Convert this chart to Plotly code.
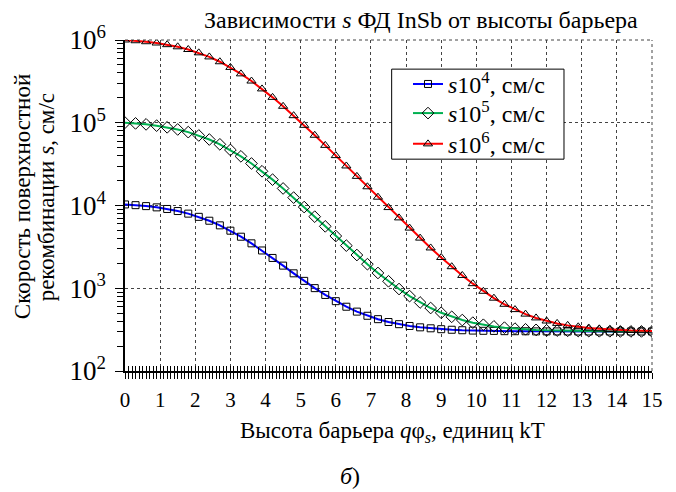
import plotly.graph_objects as go

# Barrier height q*phi_s, kT units (markers every 0.3)
x_vals = [0.0, 0.3, 0.6, 0.9, 1.2, 1.5, 1.8, 2.1, 2.4, 2.7, 3.0, 3.3, 3.6, 3.9, 4.2, 4.5, 4.8,
          5.1, 5.4, 5.7, 6.0, 6.3, 6.6, 6.9, 7.2, 7.5, 7.8, 8.1, 8.4, 8.7, 9.0, 9.3, 9.6, 9.9,
          10.2, 10.5, 10.8, 11.1, 11.4, 11.7, 12.0, 12.3, 12.6, 12.9, 13.2, 13.5, 13.8, 14.1,
          14.4, 14.7, 15.0]

s_1e4 = [10300, 10094, 9830, 9495, 9078, 8572, 7975, 7293, 6545, 5756, 4962, 4196, 3489, 2861,
         2324, 1877, 1515, 1228, 1003, 830, 698, 598, 522, 465, 423, 391, 368, 350, 337, 328,
         320, 315, 311, 308, 306, 305, 303, 302.5, 302, 301, 301, 300.8, 300.6, 300.4, 300.3,
         300.2, 300.2, 300.1, 300.1, 300.1, 300.1]

s_1e5 = [100300, 98243, 95602, 92246, 88081, 83020, 77046, 70230, 62745, 54861, 46916, 39259,
         32189, 25914, 20538, 16070, 12450, 9576, 7330, 5599, 4277, 3275, 2520, 1954, 1530,
         1214, 978.5, 803.5, 673.5, 577, 505, 452, 413, 384, 362, 346, 334, 325, 319, 314,
         310, 308, 306, 304, 303, 302, 302, 301, 301, 301, 300.5]

s_1e6 = [1000300, 979732, 953316, 919756, 878109, 827498, 767760, 699601, 624754, 545913,
         466457, 389890, 319188, 256441, 202680, 158004, 121798, 93056, 70599, 53289, 40067,
         30049, 22500, 16835, 12600, 9439, 7085, 5335, 4035, 3069, 2353, 1822, 1428, 1136,
         919, 759, 640, 552, 487, 438, 402, 376, 356, 342, 331, 323, 317, 312.5, 309, 307, 305]

series_names = ["<i>s</i>10<sup>4</sup>, см/с", "<i>s</i>10<sup>5</sup>, см/с",
                "<i>s</i>10<sup>6</sup>, см/с"]
x_ticks = list(range(0, 16))
y_tickvals = [1e2, 1e3, 1e4, 1e5, 1e6]
y_ticktext = ["10<sup>2</sup>", "10<sup>3</sup>", "10<sup>4</sup>", "10<sup>5</sup>",
              "10<sup>6</sup>"]

FONT = "Liberation Serif, Times New Roman, serif"

fig = go.Figure()
styles = [("#0000ff", "square-open", 7), ("#00b050", "diamond-open", 9),
          ("#ff0000", "triangle-up-open", 8)]
legend_ids = ["legend", "legend2", "legend3"]
for name, ys, (col, sym, sz), lg in zip(series_names, [s_1e4, s_1e5, s_1e6], styles, legend_ids):
    fig.add_trace(go.Scatter(
        x=x_vals, y=ys, name=name, mode="lines+markers", legend=lg,
        line=dict(color=col, width=2),
        marker=dict(symbol=sym, size=sz, color="black", line=dict(width=1)),
    ))

# invisible trace on overlay axis for inside ticks
fig.add_trace(go.Scatter(x=[0, 15], y=[100, 100], xaxis="x2", mode="lines",
                         line=dict(width=0), showlegend=False, hoverinfo="skip"))

def leg(ypos):
    return dict(x=0.537, y=ypos, xanchor="left", yanchor="middle",
                bgcolor="rgba(0,0,0,0)", borderwidth=0,
                font=dict(family=FONT, size=24), itemwidth=30)

fig.update_layout(
    width=668, height=484,
    margin=dict(l=117, r=24, t=32, b=121),
    paper_bgcolor="white", plot_bgcolor="white",
    font=dict(family=FONT, color="black", size=21),
    showlegend=True,
    legend=leg(0.866), legend2=leg(0.778), legend3=leg(0.685),
    xaxis=dict(range=[0, 15], tickvals=x_ticks, ticks="outside", ticklen=6,
               tickcolor="black", showline=True, linecolor="black", linewidth=1.5,
               showgrid=True, gridcolor="#444", griddash="dot", gridwidth=1,
               zeroline=False, ticklabelstandoff=3,
               tickfont=dict(size=21),
               minor=dict(dtick=0.1, ticks="outside", ticklen=6, tickcolor="black",
                          showgrid=False)),
    xaxis2=dict(range=[0, 15], overlaying="x", anchor="y", side="bottom",
                tickvals=x_ticks, ticks="inside", ticklen=5, tickcolor="black",
                showticklabels=False, showgrid=False, zeroline=False, showline=False,
                minor=dict(dtick=0.1, ticks="inside", ticklen=5, tickcolor="black",
                           showgrid=False)),
    yaxis=dict(type="log", range=[2, 6], tickvals=y_tickvals, ticktext=y_ticktext,
               ticks="outside", ticklen=8, tickcolor="black",
               showline=True, linecolor="black", linewidth=1.5,
               showgrid=True, gridcolor="#444", griddash="dot", gridwidth=1,
               zeroline=False, tickfont=dict(size=27), ticklabelstandoff=4,
               minor=dict(dtick="D1", ticks="outside", ticklen=6, tickcolor="black",
                          showgrid=False)),
)

# top and right border (dotted, like grid)
fig.add_shape(type="line", xref="paper", yref="paper", x0=0, x1=1, y0=1, y1=1,
              line=dict(color="#444", width=1, dash="dot"))
fig.add_shape(type="line", xref="paper", yref="paper", x0=1, x1=1, y0=0, y1=1,
              line=dict(color="#444", width=1, dash="dot"))
# legend frame
fig.add_shape(type="rect", xref="paper", yref="paper", layer="above",
              x0=0.506, x1=0.833, y0=0.640, y1=0.912,
              fillcolor="white", line=dict(color="black", width=1))

fig.add_annotation(text="Зависимости <i>s</i> ФД InSb от высоты барьера",
                   xref="paper", yref="paper", x=0.562, y=1.0, xanchor="center",
                   yanchor="bottom", yshift=5, showarrow=False,
                   font=dict(family=FONT, size=24))
fig.add_annotation(text="Скорость поверхностной",
                   xref="paper", yref="paper", x=-0.193, y=0.526, xanchor="center",
                   yanchor="middle", textangle=-90, showarrow=False,
                   font=dict(family=FONT, size=23))
fig.add_annotation(text="рекомбинации <i>s</i>, см/с",
                   xref="paper", yref="paper", x=-0.149, y=0.526, xanchor="center",
                   yanchor="middle", textangle=-90, showarrow=False,
                   font=dict(family=FONT, size=23))
fig.add_annotation(text="Высота барьера <i>q</i>φ<sub><i>s</i></sub>, единиц kT",
                   xref="paper", yref="paper", x=0.507, y=-0.184, xanchor="center",
                   yanchor="middle", showarrow=False,
                   font=dict(family=FONT, size=23))
fig.add_annotation(text="<i>б</i>)",
                   xref="paper", yref="paper", x=0.426, y=-0.317, xanchor="center",
                   yanchor="middle", showarrow=False,
                   font=dict(family=FONT, size=24))

fig.write_html("out.html")
